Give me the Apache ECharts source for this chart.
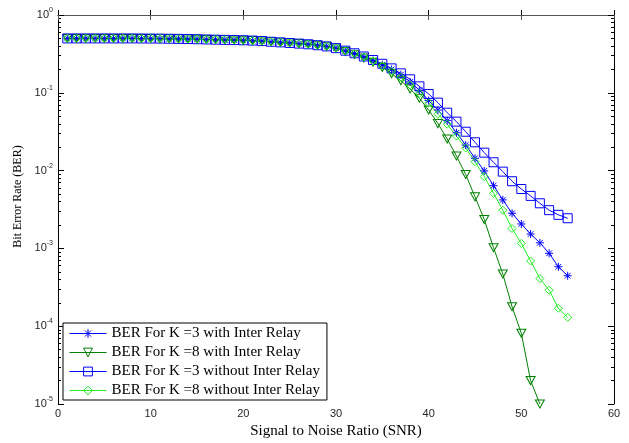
<!DOCTYPE html>
<html><head><meta charset="utf-8">
<script src="https://cdn.jsdelivr.net/npm/echarts@6/dist/echarts.min.js"></script>
<style>html,body{margin:0;padding:0;background:#fff}#c{width:629px;height:443px}</style>
</head><body><div id="c"></div>
<script>
// SNR values (x)
const snr = [1,2,3,4,5,6,7,8,9,10,11,12,13,14,15,16,17,18,19,20,21,22,23,24,25,26,27,28,29,30,
  31,32,33,34,35,36,37,38,39,40,41,42,43,44,45,46,47,48,49,50,51,52,53,54,55];

// BER for K=3 with Inter Relay (SNR 1..55)
const berK3With = [0.5,0.5,0.5,0.5,0.5,0.5,0.5,0.5,0.499,0.498,0.497,0.495,0.493,0.491,0.488,0.485,0.482,0.479,0.476,0.473,
  0.469,0.462,0.453,0.445,0.437,0.429,0.42,0.409,0.395,0.375,
  0.346,0.32,0.291,0.26,0.229,0.2,0.171,0.138,0.108,0.0795,0.06,0.0438,0.0307,0.0213,0.0144,0.0099,0.0064,0.0042,0.00283,0.00206,
  0.00153,0.00118,0.000865,0.00058,0.000445];

// BER for K=8 with Inter Relay (SNR 1..52)
const berK8With = [0.5,0.5,0.5,0.5,0.5,0.5,0.5,0.5,0.499,0.498,0.497,0.495,0.493,0.491,0.488,0.485,0.482,0.479,0.476,0.473,
  0.469,0.462,0.453,0.445,0.437,0.429,0.42,0.409,0.395,0.375,
  0.34,0.312,0.281,0.247,0.212,0.176,0.143,0.112,0.085,0.06,0.0402,0.0255,0.0154,0.0089,0.0046,0.00235,0.00102,0.00047,0.000178,0.000081,
  0.00002,0.00001];

// BER for K=3 without Inter Relay (SNR 1..55)
const berK3Without = [0.5,0.5,0.5,0.5,0.5,0.5,0.5,0.5,0.499,0.498,0.497,0.495,0.493,0.491,0.488,0.485,0.482,0.479,0.476,0.473,
  0.469,0.462,0.453,0.445,0.437,0.429,0.42,0.409,0.395,0.375,
  0.348,0.322,0.293,0.264,0.236,0.206,0.178,0.149,0.121,0.0966,0.0747,0.0555,0.0426,0.0316,0.0231,0.017,0.0128,0.0097,0.0073,0.0058,
  0.00473,0.0038,0.0031,0.0027,0.00244];

// BER for K=8 without Inter Relay (SNR 1..55)
const berK8Without = [0.5,0.5,0.5,0.5,0.5,0.5,0.5,0.5,0.499,0.498,0.497,0.495,0.493,0.491,0.488,0.485,0.482,0.479,0.476,0.473,
  0.469,0.462,0.453,0.445,0.437,0.429,0.42,0.409,0.395,0.375,
  0.344,0.317,0.288,0.256,0.222,0.19,0.158,0.126,0.0985,0.074,0.053,0.0395,0.0278,0.0195,0.013,0.0084,0.0051,0.0031,0.0018,0.00116,
  0.00069,0.00041,0.00029,0.00017,0.00013];

const seriesNames = ['BER For K =3 with Inter Relay','BER For K =8 with Inter Relay',
  'BER For K =3 without Inter Relay','BER For K =8 without Inter Relay'];
const seriesColors = ['#0000ff','#008000','#0000ff','#22ee22'];

const yDecades = [-5,-4,-3,-2,-1,0];
const minorMultipliers = [2,3,4,5,6,7,8,9];

const minorLog = [];
yDecades.slice(0,5).forEach(e => minorMultipliers.forEach(m => minorLog.push(e + Math.log10(m))));

function pairs(arr){ return arr.map((v,i)=>[snr[i], v]); }

const SANS = 'Liberation Sans', SERIF = 'Liberation Serif';
const STAR = 'path://M0,5L10,5M5,0L5,10M1.5,1.5L8.5,8.5M8.5,1.5L1.5,8.5';
const TRI = 'path://M0,0L10,0L5,8.66Z';
const SQR = 'path://M0,0L10,0L10,10L0,10Z';
const DIA = 'path://M5,0L10,5L5,10L0,5Z';

function mk(name, data, color, symbol, size){
  return {
    name, type:'line', data: pairs(data), xAxisIndex:0, yAxisIndex:0,
    symbol, symbolSize:size, showAllSymbol:true, animation:false,
    lineStyle:{color, width:1},
    itemStyle:{color:'none', borderColor:color, borderWidth:1},
    emphasis:{disabled:true}
  };
}

const chart = echarts.init(document.getElementById('c'));
chart.setOption({
  animation:false,
  backgroundColor:'#fff',
  grid:{left:58, top:15, right:15, bottom:39, outerBoundsMode:'none'},
  legend:{
    orient:'vertical', left:63, top:323, padding:[3,7,2,6],
    itemGap:4, itemWidth:37, itemHeight:11,
    backgroundColor:'#fff', borderColor:'#000', borderWidth:1,
    lineStyle:{width:1},
    itemStyle:{color:'none', borderWidth:1},
    textStyle:{fontFamily:SERIF, fontSize:15, color:'#000', lineHeight:15},
    data: seriesNames.map((n,i)=>({name:n,
      lineStyle:{color:seriesColors[i], width:1},
      itemStyle:{color:'none', borderColor:seriesColors[i], borderWidth:1}}))
  },
  xAxis:[
    {type:'value', position:'bottom', min:0, max:60, interval:10,
     axisLine:{lineStyle:{color:'#000', width:1}},
     axisTick:{inside:true, length:5, lineStyle:{color:'#000'}},
     axisLabel:{margin:4, fontFamily:SANS, fontSize:11, color:'#262626'},
     splitLine:{show:false},
     name:'Signal to Noise Ratio (SNR)', nameLocation:'middle', nameGap:17,
     nameTextStyle:{fontFamily:SERIF, fontSize:15, color:'#000'}},
    {type:'value', position:'top', min:0, max:60, interval:10,
     axisLine:{lineStyle:{color:'#555', width:1}},
     axisTick:{inside:true, length:5, lineStyle:{color:'#555'}},
     axisLabel:{show:false}, splitLine:{show:false}}
  ],
  yAxis:[
    {type:'log', logBase:10, min:1e-5, max:1, position:'left',
     axisLine:{lineStyle:{color:'#000', width:1}},
     axisTick:{inside:true, length:6, lineStyle:{color:'#000'}},
     axisLabel:{margin:5,
       formatter: v => '{b|10}{s|' + Math.round(Math.log10(v)) + '}',
       rich:{
         b:{fontFamily:SANS, fontSize:11, color:'#262626'},
         s:{fontFamily:SANS, fontSize:7, color:'#262626', padding:[0,0,10,0]}
       }},
     splitLine:{show:false},
     name:'Bit Error Rate (BER)', nameLocation:'middle', nameGap:31, nameRotate:90,
     nameTextStyle:{fontFamily:SERIF, fontSize:12, color:'#000', padding:[0,0,0,26]}},
    {type:'value', min:-5, max:0, position:'left',
     axisLine:{show:false},
     axisTick:{inside:true, length:3, customValues:minorLog, lineStyle:{color:'#000'}},
     axisLabel:{show:false}, splitLine:{show:false}},
    {type:'value', min:-5, max:0, interval:1, position:'right',
     axisLine:{lineStyle:{color:'#000', width:1}},
     axisTick:{inside:true, length:6, lineStyle:{color:'#000'}},
     axisLabel:{show:false}, splitLine:{show:false}},
    {type:'value', min:-5, max:0, position:'right',
     axisLine:{show:false},
     axisTick:{inside:true, length:3, customValues:minorLog, lineStyle:{color:'#000'}},
     axisLabel:{show:false}, splitLine:{show:false}}
  ],
  series:[
    mk(seriesNames[0], berK3With, seriesColors[0], STAR, 8),
    mk(seriesNames[1], berK8With, seriesColors[1], TRI, [9,8]),
    mk(seriesNames[2], berK3Without, seriesColors[2], SQR, 9),
    mk(seriesNames[3], berK8Without, seriesColors[3], DIA, 8)
  ]
});
</script></body></html>
